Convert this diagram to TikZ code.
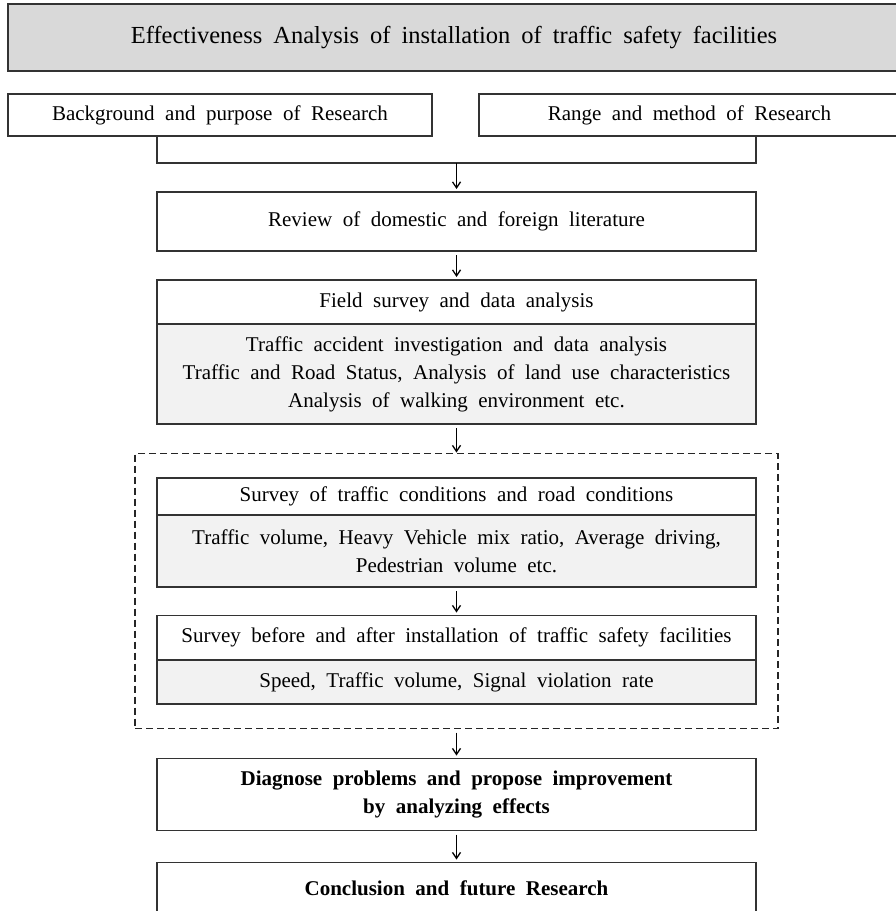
\documentclass[tikz,border=0pt]{standalone}
\usepackage{fontspec}
\setmainfont{Liberation Serif}
\usetikzlibrary{positioning,fit,arrows.meta}

\definecolor{titlegray}{HTML}{D9D9D9}
\definecolor{bodygray}{HTML}{F2F2F2}
\definecolor{edgegray}{HTML}{333333}

\newcommand{\boxtext}{\fontsize{21}{28}\selectfont\spaceskip=10.5pt plus 2pt minus 1pt}
\newcommand{\titletext}{\fontsize{24.5}{29}\selectfont\spaceskip=11pt plus 2pt minus 1pt}

\begin{document}
\begin{tikzpicture}[x=1pt,y=1pt,
  flowbox/.style={draw=edgegray, line width=1.2pt, fill=white, minimum width=599pt,
    inner sep=0pt, outer sep=0pt, align=center, font=\boxtext},
  bodybox/.style={flowbox, fill=bodygray},
  arr/.style={-{Straight Barb[length=6pt,width=8pt]}, line width=1.3pt,
    shorten <=4pt, shorten >=3pt},
  dashbox/.style={draw=black!85, line width=1.1pt, dash pattern=on 7pt off 4pt,
    inner xsep=22pt, inner ysep=24.5pt, outer sep=0pt}]

\useasboundingbox (0,0) rectangle (896,-911);

 % Nodes

\node[flowbox, fill=titlegray, minimum width=892pt, minimum height=67pt, font=\titletext]
  (title) at (454,-37.5) {Effectiveness Analysis of installation of traffic safety facilities};
\node[flowbox, minimum width=424pt, minimum height=42pt] (background) at (220,-115)
  {Background and purpose of Research};
\node[flowbox, minimum width=421pt, minimum height=42pt] (range) at (689.5,-115)
  {Range and method of Research};

\coordinate (join) at (456.5,-163);

\node[flowbox, minimum height=59pt, below=29pt of join] (review)
  {Review of domestic and foreign literature};
\node[flowbox, minimum height=44pt, below=29pt of review] (field)
  {Field survey and data analysis};
\node[bodybox, minimum height=100pt, below=0pt of field] (fielddata)
  {Traffic accident investigation and data analysis\\
   Traffic and Road Status, Analysis of land use characteristics\\
   Analysis of walking environment etc.};

\node[flowbox, minimum height=37pt, below=54pt of fielddata] (traffic)
  {Survey of traffic conditions and road conditions};
\node[bodybox, minimum height=72pt, below=0pt of traffic] (trafficdata)
  {Traffic volume, Heavy Vehicle mix ratio, Average driving,\\
   Pedestrian volume etc.};
\node[flowbox, minimum height=44.5pt, below=28.5pt of trafficdata] (install)
  {Survey before and after installation of traffic safety facilities};
\node[bodybox, minimum height=44pt, below=0pt of install] (installdata)
  {Speed, Traffic volume, Signal violation rate};
\node[dashbox, fit=(traffic)(installdata)] (survey) {};

\node[flowbox, font=\boxtext\bfseries, minimum height=72pt, below=30pt of survey] (diagnose)
  {Diagnose problems and propose improvement\\ by analyzing effects};
\node[flowbox, font=\boxtext\bfseries, minimum height=52pt, below=32pt of diagnose] (conclusion)
  {Conclusion and future Research};

% Connect nodes
\draw[draw=edgegray, line width=1.2pt] (background.south -| review.west) |- (join)
  -| (range.south -| review.east);
\draw[arr, shorten <=0pt] (join) -- (review);
\draw[arr] (review) -- (field);
\draw[arr, shorten >=1pt] (fielddata) -- (survey);
\draw[arr] (trafficdata) -- (install);
\draw[arr] (survey) -- (diagnose);
\draw[arr] (diagnose) -- (conclusion);

\end{tikzpicture}
\end{document}
